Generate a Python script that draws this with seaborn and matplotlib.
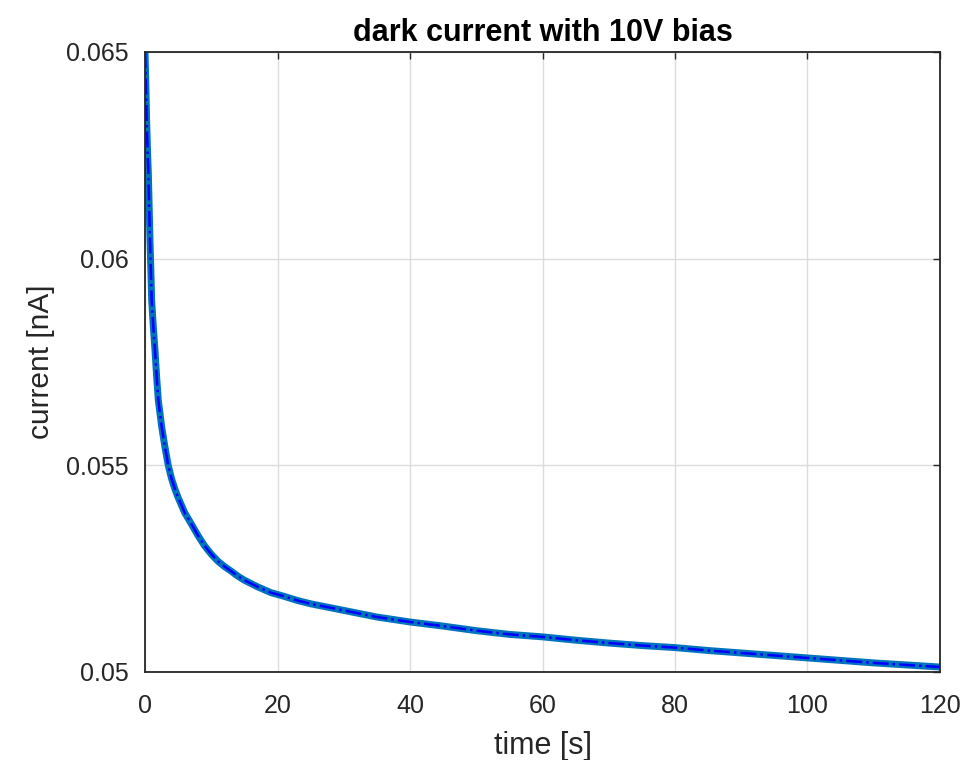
import numpy as np
import pandas as pd
import matplotlib
matplotlib.use("Agg")
import matplotlib.pyplot as plt
import seaborn as sns

# values
time_s = [0.0, 0.1, 0.25, 0.4, 0.5, 0.65, 0.75, 0.9, 1.0, 1.25, 1.5, 1.75,
          2.0, 2.5, 3.0, 3.5, 4.0, 4.5, 5.0, 6.0, 7.0, 8.0, 9.0, 10.0, 11.0,
          12.0, 13.0, 14.0, 15.0, 17.0, 19.0, 21.0, 23.0, 25.0, 27.5, 30.0,
          32.5, 35.0, 37.5, 40.0, 45.0, 50.0, 55.0, 60.0, 65.0, 70.0, 75.0,
          80.0, 85.0, 90.0, 95.0, 100.0, 105.0, 110.0, 115.0, 120.0]
current_na = [0.06500, 0.06440, 0.06330, 0.06250, 0.06207, 0.06110, 0.06045,
              0.05960, 0.05900, 0.05835, 0.05779, 0.05715, 0.05658, 0.05595,
              0.05545, 0.05500, 0.05468, 0.05443, 0.05422, 0.05385, 0.05358,
              0.05330, 0.05305, 0.05285, 0.05268, 0.05255, 0.05244, 0.05232,
              0.05222, 0.05206, 0.05192, 0.05183, 0.05173, 0.05165, 0.05157,
              0.05149, 0.05141, 0.05133, 0.05127, 0.05121, 0.05111, 0.05100,
              0.05091, 0.05085, 0.05077, 0.05070, 0.05064, 0.05059, 0.05052,
              0.05046, 0.05040, 0.05034, 0.05028, 0.05022, 0.05017, 0.05012]

x_ticks = [0, 20, 40, 60, 80, 100, 120]
y_ticks = [0.05, 0.055, 0.06, 0.065]
y_tick_labels = ["0.05", "0.055", "0.06", "0.065"]

df = pd.DataFrame({"time": time_s, "current": current_na})

sns.set_theme(style="whitegrid")
plt.rcParams["font.family"] = ["Liberation Sans", "DejaVu Sans"]

fig = plt.figure(figsize=(9.63, 7.6), dpi=100)
ax = fig.add_axes([0.1506, 0.1158, 0.8255, 0.8158])

# thick light-blue band (dense dot markers in the original) + blue dash-dot line
sns.lineplot(data=df, x="time", y="current", ax=ax, color=(0.0, 0.45, 0.74),
             linewidth=5.0)
sns.lineplot(data=df, x="time", y="current", ax=ax, color="#0000ff",
             linewidth=1.8, linestyle="-.")

ax.set_xlim(0, 120)
ax.set_ylim(0.05, 0.065)
ax.set_xticks(x_ticks)
ax.set_yticks(y_ticks)
ax.set_yticklabels(y_tick_labels)

ax.grid(True, color="#dcdcdc", linewidth=1.0)
ax.set_facecolor("white")
for sp in ax.spines.values():
    sp.set_visible(True)
    sp.set_color("#262626")
    sp.set_linewidth(1.3)
ax.tick_params(direction="in", length=5, width=1.0, colors="#262626",
               labelsize=18, top=True, right=True)
ax.tick_params(axis="x", pad=16)
ax.tick_params(axis="y", pad=12)

ax.set_xlabel("time [s]", fontsize=22, color="#262626", labelpad=9)
ax.set_ylabel("current [nA]", fontsize=21.5, color="#262626", labelpad=8)
ax.set_title("dark current with 10V bias", fontsize=22, fontweight="bold",
             color="black", pad=8)

fig.savefig("out.png", dpi=100)
